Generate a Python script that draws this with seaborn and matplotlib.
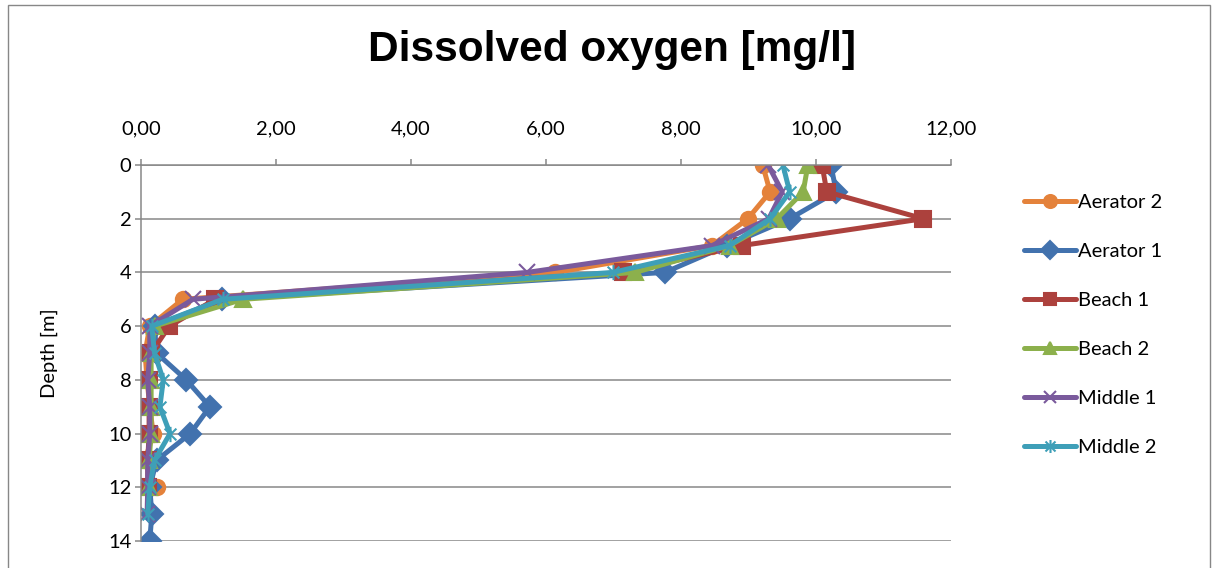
import pandas as pd
import seaborn as sns
import matplotlib.pyplot as plt
from matplotlib.ticker import FuncFormatter, MultipleLocator
from matplotlib.patches import Rectangle
from matplotlib.path import Path

# Dissolved oxygen profiles [mg/l] per site, by depth [m]
depth_a2 = [0, 1, 2, 3, 4, 5, 6, 7, 8, 9, 10, 11, 12]
aerator_2 = [9.21, 9.32, 8.99, 8.46, 6.14, 0.62, 0.13, 0.06, 0.09, 0.13, 0.18, 0.06, 0.23]

depth_a1 = [0, 1, 2, 3, 4, 5, 6, 7, 8, 9, 10, 11, 12, 13, 14]
aerator_1 = [10.22, 10.30, 9.61, 8.68, 7.76, 1.20, 0.20, 0.23, 0.67, 1.02, 0.73, 0.23, 0.13, 0.16, 0.13]

depth_b1 = [0, 1, 2, 3, 4, 5, 6, 7, 8, 9, 10, 11, 12]
beach_1 = [10.09, 10.16, 11.59, 8.90, 7.14, 1.10, 0.42, 0.15, 0.12, 0.12, 0.12, 0.10, 0.10]

depth_b2 = [0, 1, 2, 3, 4, 5, 6, 7, 8, 9, 10, 11, 12]
beach_2 = [9.88, 9.81, 9.42, 8.72, 7.32, 1.51, 0.20, 0.15, 0.15, 0.15, 0.15, 0.12, 0.12]

depth_m1 = [0, 1, 2, 3, 4, 5, 6, 7, 8, 9, 10, 11, 12, 13]
middle_1 = [9.29, 9.50, 9.30, 8.46, 5.72, 0.77, 0.13, 0.13, 0.10, 0.13, 0.13, 0.10, 0.10, 0.09]

depth_m2 = [0, 1, 2, 3, 4, 5, 6, 7, 8, 9, 10, 11, 12, 13]
middle_2 = [9.51, 9.61, 9.32, 8.72, 6.99, 1.21, 0.16, 0.20, 0.33, 0.28, 0.43, 0.20, 0.13, 0.10]

sites = ["Aerator 2", "Aerator 1", "Beach 1", "Beach 2", "Middle 1", "Middle 2"]
colors = ["#E4823B", "#4272AE", "#AC413D", "#8CB04C", "#7A5A9C", "#3E9FB8"]

# Excel-style asterisk: an x with a vertical bar through it
star = Path([(-1, -1), (1, 1), (-1, 1), (1, -1), (0, -1.3), (0, 1.3)],
            [Path.MOVETO, Path.LINETO, Path.MOVETO, Path.LINETO, Path.MOVETO, Path.LINETO])
markers = ["o", "D", "s", "^", "x", star]

series = [(depth_a2, aerator_2), (depth_a1, aerator_1), (depth_b1, beach_1),
          (depth_b2, beach_2), (depth_m1, middle_1), (depth_m2, middle_2)]

sns.set_style("white")
plt.rcParams["font.family"] = ["Lato", "DejaVu Sans"]
plt.rcParams["text.color"] = "black"
plt.rcParams["axes.labelcolor"] = "black"

fig = plt.figure(figsize=(12.16, 5.68), dpi=100)
ax = fig.add_axes([141 / 1216, 1 - 541 / 568, 810 / 1216, 376 / 568])

for name, (d, v), c, m in zip(sites, series, colors, markers):
    df = pd.DataFrame({"depth": d, "oxygen": v})
    sns.lineplot(data=df, x="oxygen", y="depth", sort=False, estimator=None,
                 orient="y", color=c, marker=m, markersize=11, linewidth=3.6,
                 markeredgecolor=c, markeredgewidth=1.5, label=name, ax=ax)

ax.set_xlim(0, 12)
ax.set_ylim(14, 0)
ax.xaxis.set_major_locator(MultipleLocator(2))
ax.yaxis.set_major_locator(MultipleLocator(2))
ax.xaxis.set_major_formatter(FuncFormatter(lambda v, p: f"{v:.2f}".replace(".", ",")))
ax.xaxis.tick_top()
ax.set_xlabel("")
ax.set_ylabel("Depth [m]", fontsize=14.5, labelpad=36)

ax.grid(axis="y", color="#878787", linewidth=1.1)
ax.grid(axis="x", visible=False)
for s in ["right", "bottom"]:
    ax.spines[s].set_visible(False)
for s in ["left", "top"]:
    ax.spines[s].set_color("#878787")
    ax.spines[s].set_linewidth(1.1)
ax.tick_params(axis="x", which="major", top=True, direction="out", length=4,
               width=1.1, color="#878787", pad=16, labelsize=14.5, labelcolor="black")
ax.tick_params(axis="y", which="major", left=True, direction="out", length=4,
               width=1.1, color="#878787", pad=3, labelsize=14.5, labelcolor="black")

fig.text(612 / 1216, 1 - 50 / 568, "Dissolved oxygen [mg/l]", ha="center", va="center",
         fontsize=30.5, fontweight="bold", color="black",
         family=["Liberation Sans", "DejaVu Sans"])

handles, labels = ax.get_legend_handles_labels()
ax.legend(handles, labels, loc="upper left", bbox_to_anchor=(1006 / 1216, 1 - 176 / 568),
          bbox_transform=fig.transFigure, frameon=False, fontsize=14.5,
          handlelength=2.6, handletextpad=0.1, labelspacing=1.58, markerscale=0.85)

fig.patches.append(Rectangle((8 / 1216, -0.1), 1202 / 1216, 1.1 - 5 / 568,
                             transform=fig.transFigure, fill=False,
                             edgecolor="#878787", linewidth=1.0))

fig.savefig("out.png", dpi=100)
plt.close(fig)
